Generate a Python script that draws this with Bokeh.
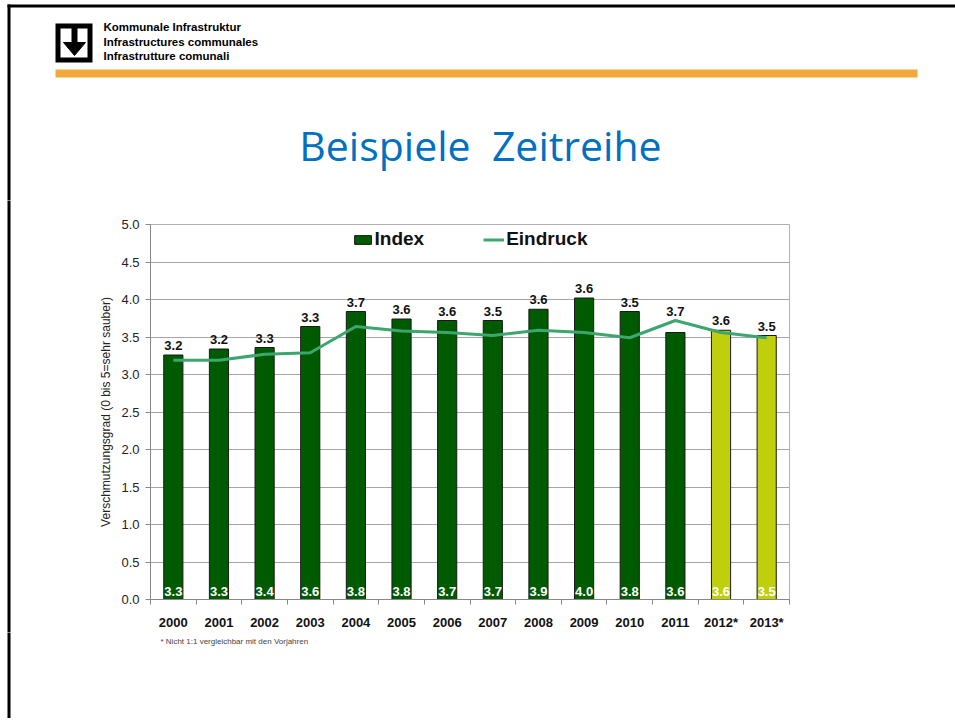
from bokeh.plotting import figure
from bokeh.layouts import column, row
from bokeh.models import (Range1d, ColumnDataSource, Legend, LegendItem, FixedTicker,
                          NumeralTickFormatter)
from bokeh.core.properties import value
from bokeh.embed import file_html
from bokeh.resources import INLINE

# ---------------- data ----------------
years = ["2000", "2001", "2002", "2003", "2004", "2005", "2006", "2007",
         "2008", "2009", "2010", "2011", "2012*", "2013*"]
index_values = [3.26, 3.34, 3.36, 3.64, 3.84, 3.74, 3.72, 3.72, 3.87, 4.02, 3.84, 3.56, 3.59, 3.52]
index_labels = ["3.3", "3.3", "3.4", "3.6", "3.8", "3.8", "3.7", "3.7", "3.9", "4.0", "3.8", "3.6", "3.6", "3.5"]
eindruck_values = [3.19, 3.19, 3.27, 3.29, 3.64, 3.58, 3.56, 3.52, 3.59, 3.56, 3.49, 3.72, 3.56, 3.49]
eindruck_labels = ["3.2", "3.2", "3.3", "3.3", "3.7", "3.6", "3.6", "3.5", "3.6", "3.6", "3.5", "3.7", "3.6", "3.5"]
comparable = [True] * 12 + [False] * 2
y_ticks = [0.0, 0.5, 1.0, 1.5, 2.0, 2.5, 3.0, 3.5, 4.0, 4.5, 5.0]

title_text = "Beispiele\u00a0 Zeitreihe"
header_lines = ["Kommunale Infrastruktur", "Infrastructures communales", "Infrastrutture comunali"]
footnote = "* Nicht 1:1 vergleichbar mit den Vorjahren"
y_label = "Verschmutzungsgrad (0 bis 5=sehr sauber)"

# ---------------- style ----------------
GREEN = "#005A00"
YELLOW = "#BFCF0C"
LINE = "#3DA66E"
ORANGE = "#F3A83B"
BLUE = "#0070C0"
FONT = value("Liberation Sans")

PAGE_W = 955
HEAD_H = 200          # page y 0 .. 200
CHART_H = 432         # page y 200 .. 632
FOOT_H = 86           # page y 632 .. 718
STRIP_W = 20


def no_align(f):
    if "frame_align" in f.properties():
        f.frame_align = False
    return f


def panel(width, height, y0):
    """A decoration figure whose frame fills the canvas; data units = page pixels."""
    f = figure(width=width, height=height, x_range=Range1d(0, width),
               y_range=Range1d(y0 + height, y0), output_backend="svg",
               toolbar_location=None, x_axis_location=None, y_axis_location=None,
               min_border=0, min_border_left=0, min_border_right=0,
               min_border_top=0, min_border_bottom=0)
    f.grid.visible = False
    f.outline_line_color = None
    f.background_fill_color = "white"
    f.border_fill_color = "white"
    return no_align(f)


# ---------------- header ----------------
head = panel(PAGE_W, HEAD_H, 0)
head.quad(left=7, right=PAGE_W, top=4, bottom=7, fill_color="black", line_color=None)
head.quad(left=7, right=10, top=4, bottom=HEAD_H + 1, fill_color="black", line_color=None)
head.quad(left=55, right=917, top=69, bottom=77, fill_color=ORANGE, line_color=None)
# logo
head.patch(x=[57.5, 89.5, 89.5, 57.5, 57.5], y=[25.5, 25.5, 59.5, 59.5, 25.5],
           fill_alpha=0, line_color="black", line_width=5, line_join="miter")
head.quad(left=71, right=77, top=25, bottom=44, fill_color="black", line_color=None)
head.patch(x=[63, 85, 74], y=[42, 42, 55], fill_color="black", line_color="black", line_width=1)
head.text(x=[103] * 3, y=[26.5, 41, 55.5], text=header_lines, text_font=FONT,
          text_font_size="11.5px", text_font_style="bold", text_color="black",
          text_baseline="middle")
head.text(x=[480], y=[144], text=[title_text], text_font=value("Open Sans"),
          text_font_size="41px", text_color=BLUE, text_align="center",
          text_baseline="middle")

# ---------------- left strip next to the chart ----------------
strip = panel(STRIP_W, CHART_H, HEAD_H)
strip.quad(left=7, right=10, top=HEAD_H - 1, bottom=HEAD_H + CHART_H + 1, fill_color="black",
           line_color=None)

# ---------------- chart ----------------
n = len(years)
centers = [i + 0.5 for i in range(n)]          # category slot centres
bounds = [float(i) for i in range(n + 1)]      # category slot boundaries

src = ColumnDataSource(dict(
    x=centers,
    top=index_values,
    eindruck=eindruck_values,
    color=[GREEN if c else YELLOW for c in comparable],
    i_label=index_labels,
    e_label=eindruck_labels,
    label_y=[max(a, b) for a, b in zip(index_values, eindruck_values)],
))

FRAME_L, FRAME_R, FRAME_T, FRAME_B = 150, 789, 224, 606   # page pixels
CHART_W = PAGE_W - STRIP_W
p = figure(width=CHART_W, height=CHART_H, x_range=Range1d(0, n), y_range=Range1d(0, 5),
           output_backend="svg", toolbar_location=None,
           min_border_left=FRAME_L - STRIP_W, min_border_right=PAGE_W - FRAME_R,
           min_border_top=FRAME_T - HEAD_H, min_border_bottom=HEAD_H + CHART_H - FRAME_B)
no_align(p)
p.background_fill_color = "white"
p.border_fill_color = "white"
p.outline_line_color = "#B0B0B0"
p.outline_line_width = 1

p.yaxis.ticker = FixedTicker(ticks=y_ticks)
p.yaxis.formatter = NumeralTickFormatter(format="0.0")
p.yaxis.major_label_text_font = "Liberation Sans"
p.yaxis.major_label_text_font_size = "13px"
p.yaxis.major_label_text_color = "#222222"
p.yaxis.major_tick_out = 5
p.yaxis.major_tick_in = 0
p.yaxis.minor_tick_line_color = None
p.yaxis.axis_line_color = "#888888"
p.yaxis.major_tick_line_color = "#888888"
p.yaxis.axis_label = y_label
p.yaxis.axis_label_text_font = "Liberation Sans"
p.yaxis.axis_label_text_font_size = "12px"
p.yaxis.axis_label_text_font_style = "normal"
p.yaxis.axis_label_text_color = "#222222"
p.yaxis.axis_label_standoff = 5
p.yaxis.major_label_standoff = 6

p.xaxis.ticker = FixedTicker(ticks=centers, minor_ticks=bounds)
p.xaxis.major_label_overrides = {c: y for c, y in zip(centers, years)}
p.xaxis.major_label_text_font = "Liberation Sans"
p.xaxis.major_label_text_font_size = "13px"
p.xaxis.major_label_text_font_style = "bold"
p.xaxis.major_label_text_color = "#111111"
p.xaxis.major_tick_line_color = None
p.xaxis.minor_tick_line_color = "#888888"
p.xaxis.minor_tick_out = 5
p.xaxis.minor_tick_in = 0
p.xaxis.axis_line_color = "#888888"
p.xaxis.major_label_standoff = 9

p.xgrid.grid_line_color = None
p.ygrid.ticker = FixedTicker(ticks=y_ticks)
p.ygrid.grid_line_color = "#A6A6A6"
p.ygrid.grid_line_width = 1

r_bar = p.vbar(x="x", top="top", width=0.42, fill_color="color", line_color="#1A1A1A",
               line_width=1, source=src)
r_line = p.line(x="x", y="eindruck", line_color=LINE, line_width=3, source=src)

p.text(x="x", y="label_y", text="e_label", source=src, text_font=FONT,
       text_font_size="13px", text_font_style="bold", text_color="#111111",
       text_align="center", text_baseline="bottom", y_offset=-5)
p.text(x="x", y=0, text="i_label", source=src, text_font=FONT,
       text_font_size="13px", text_font_style="bold", text_color="white",
       text_align="center", text_baseline="bottom", y_offset=-4)

legend = Legend(items=[LegendItem(label="Index", renderers=[r_bar], index=0),
                       LegendItem(label="Eindruck", renderers=[r_line])],
                location="top_center", orientation="horizontal")
legend.label_text_font = "Liberation Sans"
legend.label_text_font_size = "19px"
legend.label_text_font_style = "bold"
legend.label_text_color = "#111111"
legend.glyph_width = 21
legend.glyph_height = 11
legend.label_standoff = 2
legend.spacing = 59
legend.margin = 4
legend.padding = 4
legend.border_line_color = None
legend.background_fill_alpha = 0
p.add_layout(legend)

# ---------------- footer ----------------
foot = panel(PAGE_W, FOOT_H, HEAD_H + CHART_H)
foot.quad(left=7, right=10, top=HEAD_H + CHART_H - 1, bottom=HEAD_H + CHART_H + FOOT_H,
          fill_color="black", line_color=None)
foot.text(x=[160], y=[641], text=[footnote], text_font=FONT, text_font_size="8px",
          text_color="#444444", text_baseline="middle")

layout = column(head, row(strip, p, spacing=0), foot, spacing=0)
open("out.html", "w").write(file_html(layout, INLINE))
